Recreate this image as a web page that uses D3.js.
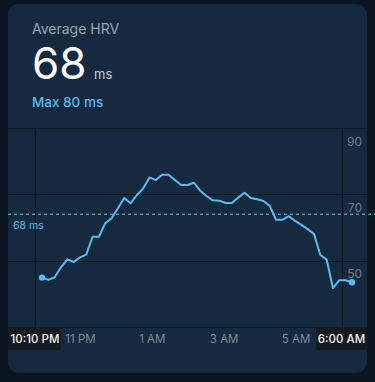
<!DOCTYPE html>
<html>
<head>
<meta charset="utf-8">
<script src="https://cdn.jsdelivr.net/npm/d3@7"></script>
<style>
  html, body { margin: 0; padding: 0; background: #0b1520; }
  svg { display: block; }
</style>
</head>
<body>
<div id="chart"></div>
<script>
// HRV-waarden (ms), ongeveer elke 10 min van 22:10 tot 06:00
const hrvValues = [
    48.9, 48.2, 49.0, 52.0, 54.4, 53.6, 55.0, 55.8, 61.2, 61.2,
    65.3, 66.8, 69.8, 72.9, 71.3, 73.8, 75.8, 79.1, 78.3, 79.9,
    79.9, 78.3, 76.8, 76.8, 77.5, 75.1, 73.5, 72.2, 72.1, 71.4,
    71.4, 73.0, 74.5, 72.9, 72.5, 72.0, 70.5, 66.3, 66.3, 67.4,
    66.0, 64.8, 63.5, 62.0, 55.7, 54.3, 45.7, 48.1, 48.1, 47.5
];

const averageHrv = 68;
const maxHrv = 80;

// tijden in uren (na middernacht = 24+)
const startHour = 22 + 10 / 60;
const endHour = 30;

const tickHours = [startHour, 23, 25, 27, 29, endHour];
const tickLabels = ["10:10 PM", "11 PM", "1 AM", "3 AM", "5 AM", "6:00 AM"];

const yTickValues = [50, 70, 90];
const yGridValues = [34, 54, 74, 94];

const width = 375;
const height = 382;

// kaart
const cardLeft = 8, cardRight = 367, cardTop = 4, cardBottom = 373;
const plotTop = 128, plotBottom = 327;

const svg = d3.select("#chart")
    .append("svg")
    .attr("width", width)
    .attr("height", height);

svg.append("rect")
    .attr("x", cardLeft)
    .attr("y", cardTop)
    .attr("width", cardRight - cardLeft)
    .attr("height", cardBottom - cardTop)
    .attr("rx", 11)
    .attr("fill", "#152a3e");

// schalen
const yScale = d3.scaleLinear()
    .domain([34, 94])
    .range([plotBottom, plotTop]);

const step = (endHour - startHour) / (hrvValues.length - 1);
const points = hrvValues.map((v, i) => ({ hour: startHour + i * step, value: v }));

const xScale = d3.scaleLinear()
    .domain([startHour, endHour])
    .range([42, 352]);

// labels staan niet lineair in de app, dus een stuksgewijze schaal
const labelScale = d3.scaleLinear()
    .domain([startHour, 23, 29, endHour])
    .range([35, 80.5, 296, 341.5]);

const gridColor = "#0d1823";

// horizontale rasterlijnen
svg.append("g")
    .selectAll("line")
    .data(yGridValues)
    .join("line")
    .attr("x1", cardLeft)
    .attr("x2", cardRight)
    .attr("y1", d => Math.round(yScale(d)) + 0.5)
    .attr("y2", d => Math.round(yScale(d)) + 0.5)
    .attr("stroke", gridColor)
    .attr("stroke-width", 1.2);

// verticale lijnen bij begin en einde
svg.append("g")
    .selectAll("line")
    .data([startHour, endHour])
    .join("line")
    .attr("x1", d => Math.round(labelScale(d)) + 0.5)
    .attr("x2", d => Math.round(labelScale(d)) + 0.5)
    .attr("y1", plotTop)
    .attr("y2", plotBottom)
    .attr("stroke", gridColor)
    .attr("stroke-width", 1.2);

// y-labels rechts
svg.append("g")
    .selectAll("text")
    .data(yTickValues)
    .join("text")
    .attr("x", 362)
    .attr("y", d => yScale(d))
    .attr("dy", "0.36em")
    .attr("text-anchor", "end")
    .attr("font-family", "Inter, sans-serif")
    .attr("font-size", 12)
    .attr("fill", "#737e89")
    .text(d => d);

// gemiddelde stippellijn
svg.append("line")
    .attr("x1", cardLeft)
    .attr("x2", width)
    .attr("y1", yScale(averageHrv))
    .attr("y2", yScale(averageHrv))
    .attr("stroke", "#7cc6f0")
    .attr("stroke-width", 1)
    .attr("stroke-dasharray", "3,3");

svg.append("text")
    .attr("x", 13)
    .attr("y", yScale(averageHrv) + 15)
    .attr("font-family", "Inter, sans-serif")
    .attr("font-size", 10.5)
    .attr("fill", "#5eb9ee")
    .text(averageHrv + " ms");

// lijn
const line = d3.line()
    .x(d => xScale(d.hour))
    .y(d => yScale(d.value));

svg.append("path")
    .datum(points)
    .attr("d", line)
    .attr("fill", "none")
    .attr("stroke", "#5cbcf2")
    .attr("stroke-width", 2)
    .attr("stroke-linejoin", "round");

svg.append("g")
    .selectAll("circle")
    .data([points[0], points[points.length - 1]])
    .join("circle")
    .attr("cx", d => xScale(d.hour))
    .attr("cy", d => yScale(d.value))
    .attr("r", 3.2)
    .attr("fill", "#5cbcf2");

// x-as labels
const xLabels = tickHours.map((h, i) => ({ hour: h, label: tickLabels[i], edge: i === 0 || i === tickHours.length - 1 }));

svg.append("rect")
    .attr("x", cardLeft)
    .attr("y", plotBottom)
    .attr("width", 61 - cardLeft)
    .attr("height", 23)
    .attr("fill", "#171a1e");

svg.append("rect")
    .attr("x", 316)
    .attr("y", plotBottom)
    .attr("width", cardRight - 316)
    .attr("height", 23)
    .attr("fill", "#171a1e");

svg.append("g")
    .selectAll("text")
    .data(xLabels)
    .join("text")
    .attr("x", d => labelScale(d.hour))
    .attr("y", plotBottom + 16)
    .attr("text-anchor", "middle")
    .attr("font-family", "Inter, sans-serif")
    .attr("font-size", 11.5)
    .attr("font-weight", d => d.edge ? 500 : 400)
    .attr("fill", d => d.edge ? "#f2f4f6" : "#7f8a95")
    .text(d => d.label);

// kop
svg.append("text")
    .attr("x", 32)
    .attr("y", 34)
    .attr("font-family", "Inter, sans-serif")
    .attr("font-size", 14)
    .attr("fill", "#9aa5b0")
    .text("Average HRV");

svg.append("text")
    .attr("x", 32)
    .attr("y", 79)
    .attr("font-family", "Inter, sans-serif")
    .attr("font-size", 44)
    .attr("font-weight", 400)
    .attr("fill", "#ffffff")
    .text(averageHrv);

svg.append("text")
    .attr("x", 94)
    .attr("y", 79)
    .attr("font-family", "Inter, sans-serif")
    .attr("font-size", 13)
    .attr("fill", "#c9d0d6")
    .text("ms");

svg.append("text")
    .attr("x", 32)
    .attr("y", 107)
    .attr("font-family", "Inter, sans-serif")
    .attr("font-size", 13.5)
    .attr("font-weight", 500)
    .attr("fill", "#5eb9ee")
    .text("Max " + maxHrv + " ms");
</script>
</body>
</html>
